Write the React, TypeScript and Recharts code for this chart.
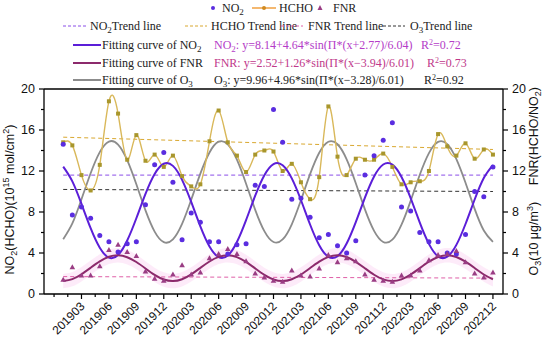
import React from "react";
import {
  ComposedChart,
  Line,
  Scatter,
  Area,
  XAxis,
  YAxis,
  ReferenceLine,
} from "recharts";

const months = [
  "201901", "201902", "201903", "201904", "201905", "201906", "201907", "201908", "201909", "201910", "201911", "201912",
  "202001", "202002", "202003", "202004", "202005", "202006", "202007", "202008", "202009", "202010", "202011", "202012",
  "202101", "202102", "202103", "202104", "202105", "202106", "202107", "202108", "202109", "202110", "202111", "202112",
  "202201", "202202", "202203", "202204", "202205", "202206", "202207", "202208", "202209", "202210", "202211", "202212",
];

// monthly observations
const no2 = [
  14.6, 7.7, 8.5, 7.4, 5.7, 5.1, 4.1, 4.9, 5.1, 8.7, 12.6, 13.8,
  10.9, 5.3, 7.9, 7.0, 5.1, 5.1, 3.9, 4.8, 4.9, 10.6, 10.5, 18.0,
  14.8, 9.25, 9.35, 7.5, 5.5, 5.8, 4.7, 4.0, 5.2, 11.6, 13.5, 15.0,
  16.7, 8.5, 8.1, 6.0, 5.1, 5.1, 4.0, 3.9, 5.8, 10.0, 9.5, 12.4,
];
const hcho = [
  14.8, 14.5, 11.6, 10.1, 12.6, 18.8, 17.6, 13.1, 15.5, 13.0, 13.6, 12.4,
  13.5, 11.5, 10.5, 10.7, 14.9, 17.9, 14.8, 13.5, 11.9, 13.6, 14.0, 13.9,
  12.0, 12.7, 10.9, 9.25, 11.4, 18.3, 13.4, 11.6, 13.2, 13.1, 13.1, 13.7,
  12.4, 10.7, 10.9, 11.0, 12.0, 15.6, 14.4, 13.5, 14.7, 13.2, 14.1, 13.6,
];
const fnr = [
  1.4, 2.6, 1.8, 1.8, 2.7, 4.3, 4.8, 4.1, 3.7, 2.2, 1.5, 1.3,
  1.9, 2.8, 1.9, 2.1, 3.5, 3.9, 4.4, 3.9, 3.2, 2.0, 1.6, 1.3,
  1.2, 2.3, 1.8, 1.7, 2.5, 3.8, 3.1, 3.5, 3.2, 1.9, 1.4, 1.3,
  1.2, 1.8, 1.8, 2.3, 3.3, 3.8, 3.9, 4.2, 3.1, 2.0, 1.6, 2.1,
];

// fitted curves, read month by month
const no2Fit = [
  12.43, 10.99, 8.79, 6.42, 4.51, 3.55, 3.81, 5.22, 7.39, 9.77, 11.71, 12.71,
  12.5, 11.14, 8.98, 6.6, 4.63, 3.59, 3.75, 5.07, 7.21, 9.59, 11.59, 12.68,
  12.56, 11.28, 9.17, 6.78, 4.76, 3.63, 3.69, 4.93, 7.02, 9.4, 11.46, 12.63,
  12.62, 11.42, 9.36, 6.97, 4.89, 3.67, 3.64, 4.79, 6.83, 9.22, 11.32, 12.58,
];
const fnrFit = [
  1.26, 1.45, 1.93, 2.56, 3.18, 3.63, 3.78, 3.59, 3.12, 2.49, 1.86, 1.41,
  1.26, 1.44, 1.91, 2.55, 3.17, 3.62, 3.78, 3.6, 3.13, 2.5, 1.87, 1.42,
  1.26, 1.44, 1.9, 2.53, 3.16, 3.62, 3.78, 3.61, 3.14, 2.51, 1.88, 1.43,
  1.26, 1.43, 1.89, 2.52, 3.15, 3.61, 3.78, 3.61, 3.15, 2.53, 1.9, 1.43,
];
const o3Fit = [
  5.35, 6.88, 9.24, 11.78, 13.84, 14.87, 14.58, 13.06, 10.71, 8.16, 6.09, 5.06,
  5.33, 6.84, 9.19, 11.74, 13.81, 14.86, 14.6, 13.1, 10.76, 8.21, 6.13, 5.07,
  5.32, 6.8, 9.14, 11.69, 13.78, 14.85, 14.61, 13.14, 10.81, 8.26, 6.16, 5.08,
  5.3, 6.77, 9.09, 11.64, 13.75, 14.84, 14.63, 13.17, 10.86, 8.3, 6.19, 5.08,
];

// trend lines: start and end value
const no2Trend = [11.6, 11.6];
const hchoTrend = [15.3, 14.1];
const fnrTrend = [1.7, 1.55];
const o3Trend = [10.2, 10.0];

const yTicks = [0, 2, 4, 6, 8, 10, 12, 14, 16, 18, 20];
const xTicks: number[] = [];
for (let t = -1; t <= 47; t += 1.5) xTicks.push(t);

const C = {
  no2Dot: "#5a2de0",
  no2Fit: "#5b1ed8",
  no2Trend: "#8a4ee8",
  hcho: "#d9b85a",
  hchoDot: "#a8962c",
  hchoTrend: "#d9a830",
  fnrDot: "#9a3d84",
  fnrFit: "#8c2a6c",
  fnrTrend: "#e060a8",
  o3Fit: "#8c8c8c",
  o3Trend: "#333333",
  band: "#fbd3f2",
};

const data = months.map((m, i) => ({
  i,
  month: m,
  no2: no2[i],
  hcho: hcho[i],
  fnr: fnr[i],
  no2Fit: no2Fit[i],
  fnrFit: fnrFit[i],
  o3Fit: o3Fit[i],
  band: [fnrFit[i] - 0.7, fnrFit[i] + 0.7],
}));

const trend = (v: number[]) => [
  { i: 0, v: v[0] },
  { i: months.length - 1, v: v[1] },
];

const sans = "'Liberation Sans', Arial, sans-serif";
const serif = "'Liberation Serif', 'Times New Roman', serif";

const XTick = (props: any) => {
  const { x, y, payload } = props;
  const v = payload.value;
  const top = y - 7;
  const major = Number.isInteger(v) && v >= 0 && (v - 2) % 3 === 0;
  return (
    <g>
      <line x1={x} x2={x} y1={top} y2={top + (major ? 5 : 3)} stroke="#000" strokeWidth={1.2} />
      {major && (
        <text
          x={x + 4}
          y={top + 13}
          transform={`rotate(-45 ${x + 4} ${top + 13})`}
          textAnchor="end"
          fontSize={12}
          fontFamily={sans}
          fill="#111"
        >
          {months[v]}
        </text>
      )}
    </g>
  );
};

const LeftTick = (props: any) => {
  const { x, y, payload } = props;
  const major = payload.value % 4 === 0;
  const ax = x + 8;
  return (
    <g>
      <line x1={ax - (major ? 5 : 3)} x2={ax} y1={y} y2={y} stroke="#000" strokeWidth={1.2} />
      {major && (
        <text x={x - 1} y={y} dy="0.35em" textAnchor="end" fontSize={12.5} fontFamily={sans} fill="#111">
          {payload.value}
        </text>
      )}
    </g>
  );
};

const RightTick = (props: any) => {
  const { x, y, payload } = props;
  const major = payload.value % 4 === 0;
  const ax = x - 8;
  return (
    <g>
      <line x1={ax} x2={ax + (major ? 5 : 3)} y1={y} y2={y} stroke="#000" strokeWidth={1.2} />
      {major && (
        <text x={x + 1} y={y} dy="0.35em" textAnchor="start" fontSize={12.5} fontFamily={sans} fill="#111">
          {payload.value}
        </text>
      )}
    </g>
  );
};

const NO2Dot = (p: any) => <circle cx={p.cx} cy={p.cy} r={2.5} fill={C.no2Dot} />;
const FNRMark = (p: any) => (
  <path
    d={`M${p.cx},${p.cy - 3} L${p.cx + 2.8},${p.cy + 2} L${p.cx - 2.8},${p.cy + 2} Z`}
    fill={C.fnrDot}
  />
);
const HCHODot = (p: any) =>
  p.cx == null ? null : (
    <rect key={p.index} x={p.cx - 2} y={p.cy - 2} width={4} height={4} fill={C.hchoDot} />
  );

const LeftLabel = (p: any) => {
  const { x, y, height } = p.viewBox;
  const cx = x + 14;
  const cy = y + height / 2 + 8;
  return (
    <text
      transform={`rotate(-90 ${cx} ${cy})`}
      x={cx}
      y={cy}
      textAnchor="middle"
      fontSize={12.5}
      fontFamily={sans}
      fill="#111"
    >
      NO<tspan dy={3} fontSize={9}>2</tspan>
      <tspan dy={-3}>(HCHO)(10</tspan>
      <tspan dy={-5} fontSize={9}>15</tspan>
      <tspan dy={5}> mol/cm</tspan>
      <tspan dy={-5} fontSize={9}>2</tspan>
      <tspan dy={5}>)</tspan>
    </text>
  );
};

const RightLabel = (p: any) => {
  const { x, y, height } = p.viewBox;
  const cx = x + 35;
  const c1 = y + height * 0.23;
  const c2 = y + height * 0.73;
  return (
    <g fontSize={12.5} fontFamily={sans} fill="#111">
      <text transform={`rotate(-90 ${cx} ${c1})`} x={cx} y={c1} textAnchor="middle">
        FNR(HCHO/NO<tspan dy={3} fontSize={9}>2</tspan>
        <tspan dy={-3}>)</tspan>
      </text>
      <text transform={`rotate(-90 ${cx} ${c2})`} x={cx} y={c2} textAnchor="middle">
        O<tspan dy={3} fontSize={9}>3</tspan>
        <tspan dy={-3}>(10 μg/m</tspan>
        <tspan dy={-5} fontSize={9}>3</tspan>
        <tspan dy={5}>)</tspan>
      </text>
    </g>
  );
};

function LegendBlock() {
  const fs = 12;
  return (
    <svg
      width={550}
      height={90}
      style={{ position: "absolute", left: 0, top: 0, pointerEvents: "none" }}
      fontFamily={serif}
      fontSize={fs}
      fill="#222"
    >
      {/* row 1 */}
      <circle cx={213} cy={8} r={2} fill={C.no2Dot} />
      <text x={222} y={12}>NO<tspan dy={3} fontSize={9}>2</tspan></text>
      <line x1={252} x2={276} y1={8} y2={8} stroke="#f0a040" strokeWidth={1.5} />
      <circle cx={264} cy={8} r={2} fill="#d08a20" />
      <text x={279} y={12}>HCHO</text>
      <path d="M320,5 L322.5,10 L317.5,10 Z" fill={C.fnrDot} />
      <text x={333} y={12}>FNR</text>

      {/* row 2 */}
      <line x1={63} x2={86} y1={26} y2={26} stroke={C.no2Trend} strokeDasharray="3 2" />
      <text x={90} y={30}>NO<tspan dy={3} fontSize={9}>2</tspan><tspan dy={-3}>Trend line</tspan></text>
      <line x1={185} x2={207} y1={26} y2={26} stroke={C.hchoTrend} strokeDasharray="3 2" />
      <text x={211} y={30}>HCHO Trend line</text>
      <line x1={281} x2={303} y1={26} y2={26} stroke={C.fnrTrend} strokeDasharray="3 2" />
      <text x={308} y={30}>FNR Trend line</text>
      <line x1={383} x2={405} y1={26} y2={26} stroke={C.o3Trend} strokeDasharray="3 2" />
      <text x={410} y={30}>O<tspan dy={3} fontSize={9}>3</tspan><tspan dy={-3}>Trend line</tspan></text>

      {/* fitting rows */}
      <line x1={73} x2={101} y1={45} y2={45} stroke={C.no2Fit} strokeWidth={2} />
      <text x={102} y={49}>Fitting curve of NO<tspan dy={3} fontSize={9}>2</tspan></text>
      <text x={214} y={49} fill="#b43cc8">
        NO<tspan dy={3} fontSize={9}>2</tspan><tspan dy={-3}>: y=8.14+4.64*sin(Π*(x+2.77)/6.04)</tspan>
      </text>
      <text x={421} y={49} fill="#b43cc8">R<tspan dy={-4} fontSize={8}>2</tspan><tspan dy={4}>=0.72</tspan></text>

      <line x1={73} x2={101} y1={63} y2={63} stroke={C.fnrFit} strokeWidth={2} />
      <text x={102} y={67}>Fitting curve of FNR</text>
      <text x={214} y={67} fill="#c0388a">FNR: y=2.52+1.26*sin(Π*(x−3.94)/6.01)</text>
      <text x={427} y={67} fill="#c0388a">R<tspan dy={-4} fontSize={8}>2</tspan><tspan dy={4}>=0.73</tspan></text>

      <line x1={73} x2={101} y1={80} y2={80} stroke={C.o3Fit} strokeWidth={2} />
      <text x={102} y={84}>Fitting curve of O<tspan dy={3} fontSize={9}>3</tspan></text>
      <text x={214} y={84}>
        O<tspan dy={3} fontSize={9}>3</tspan><tspan dy={-3}>: y=9.96+4.96*sin(Π*(x−3.28)/6.01)</tspan>
      </text>
      <text x={424} y={84}>R<tspan dy={-4} fontSize={8}>2</tspan><tspan dy={4}>=0.92</tspan></text>
    </svg>
  );
}

export default function App() {
  return (
    <div style={{ position: "absolute", left: 0, top: 0, width: 550, height: 343, background: "#fff" }}>
      <ComposedChart
        width={550}
        height={343}
        data={data}
        margin={{ top: 89, right: 0, bottom: 0, left: 0 }}
      >
        <XAxis
          dataKey="i"
          type="number"
          domain={[-2.1, 48.1]}
          ticks={xTicks}
          interval={0}
          allowDataOverflow
          height={49}
          tickSize={5}
          tickMargin={2}
          tickLine={false}
          axisLine={{ stroke: "#000", strokeWidth: 1.3 }}
          tick={<XTick />}
        />
        <YAxis
          yAxisId="left"
          domain={[0, 20]}
          ticks={yTicks}
          interval={0}
          width={44}
          tickSize={5}
          tickMargin={3}
          tickLine={false}
          axisLine={{ stroke: "#000", strokeWidth: 1.3 }}
          tick={<LeftTick />}
          label={{ content: <LeftLabel /> }}
        />
        <YAxis
          yAxisId="right"
          orientation="right"
          domain={[0, 20]}
          ticks={yTicks}
          interval={0}
          width={47}
          tickSize={5}
          tickMargin={3}
          tickLine={false}
          axisLine={{ stroke: "#000", strokeWidth: 1.3 }}
          tick={<RightTick />}
          label={{ content: <RightLabel /> }}
        />
        <ReferenceLine yAxisId="left" y={20} stroke="#000" strokeWidth={1.3} />

        <Area
          yAxisId="right"
          dataKey="band"
          type="natural"
          fill={C.band}
          fillOpacity={0.45}
          stroke="none"
          isAnimationActive={false}
        />

        <Line yAxisId="right" data={trend(o3Trend)} dataKey="v" stroke={C.o3Trend} strokeDasharray="4 3" strokeWidth={1} dot={false} isAnimationActive={false} />
        <Line yAxisId="left" data={trend(no2Trend)} dataKey="v" stroke={C.no2Trend} strokeDasharray="4 3" strokeWidth={1} dot={false} isAnimationActive={false} />
        <Line yAxisId="left" data={trend(hchoTrend)} dataKey="v" stroke={C.hchoTrend} strokeDasharray="4 3" strokeWidth={1} dot={false} isAnimationActive={false} />
        <Line yAxisId="right" data={trend(fnrTrend)} dataKey="v" stroke={C.fnrTrend} strokeDasharray="4 3" strokeWidth={1} dot={false} isAnimationActive={false} />

        <Line yAxisId="right" dataKey="o3Fit" type="natural" stroke={C.o3Fit} strokeWidth={1.8} dot={false} isAnimationActive={false} />
        <Line yAxisId="left" dataKey="hcho" type="natural" stroke={C.hcho} strokeWidth={1.4} dot={<HCHODot />} isAnimationActive={false} />
        <Line yAxisId="left" dataKey="no2Fit" type="natural" stroke={C.no2Fit} strokeWidth={2} dot={false} isAnimationActive={false} />
        <Line yAxisId="right" dataKey="fnrFit" type="natural" stroke={C.fnrFit} strokeWidth={2} dot={false} isAnimationActive={false} />

        <Scatter yAxisId="left" dataKey="no2" shape={<NO2Dot />} isAnimationActive={false} />
        <Scatter yAxisId="right" dataKey="fnr" shape={<FNRMark />} isAnimationActive={false} />
      </ComposedChart>
      <LegendBlock />
    </div>
  );
}
